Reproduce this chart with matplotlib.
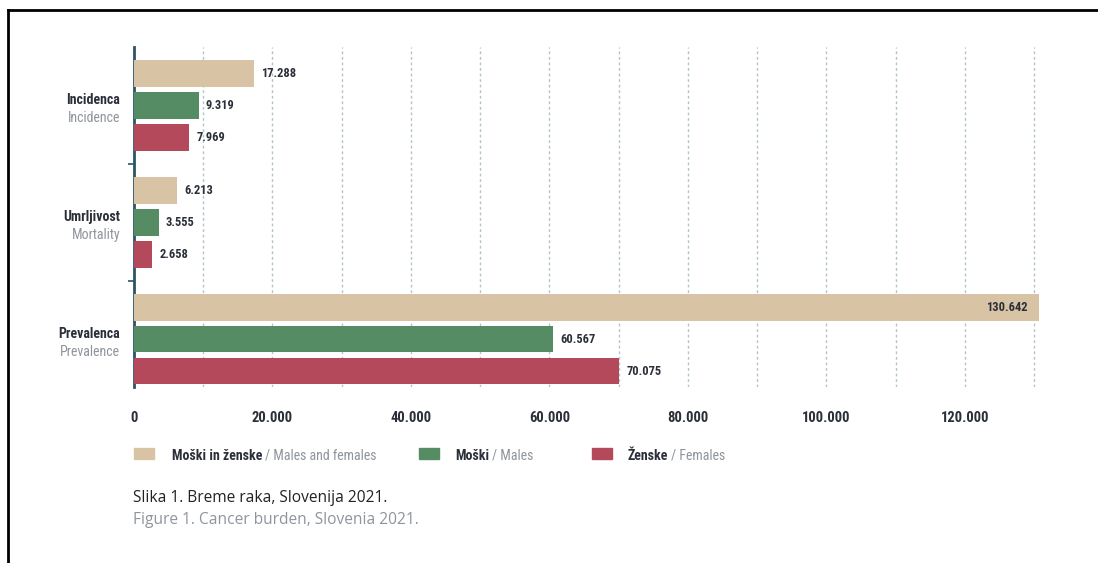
import numpy as np
import matplotlib
matplotlib.use('Agg')
import matplotlib.pyplot as plt
from matplotlib import font_manager
from matplotlib.patches import Rectangle
from matplotlib.lines import Line2D

# data
CATEGORIES_SL = ['Incidenca', 'Umrljivost', 'Prevalenca']
CATEGORIES_EN = ['Incidence', 'Mortality', 'Prevalence']
SERIES_SL     = ['Moški in ženske', 'Moški', 'Ženske']
SERIES_EN     = ['Males and females', 'Males', 'Females']
TOTAL   = [17288, 6213, 130642]
MALES   = [9319, 3555, 60567]
FEMALES = [7969, 2658, 70075]
XTICKS  = [0, 20000, 40000, 60000, 80000, 100000, 120000]

COLORS = ['#d8c3a4', '#568c63', '#b5495c']
DARK   = '#2b2f3a'
GREY   = '#8e959c'

available = {f.name for f in font_manager.fontManager.ttflist}
NARROW = next((f for f in ['Liberation Sans Narrow', 'Roboto Condensed',
                           'DejaVu Sans Condensed', 'Roboto'] if f in available),
              'DejaVu Sans')
CAPTION = 'Open Sans' if 'Open Sans' in available else 'DejaVu Sans'

def fmt(v):
    return f'{v:,}'.replace(',', '.')

W, H = 1098, 563
fig = plt.figure(figsize=(W / 100, H / 100), dpi=100)

# axes placed in pixel terms
x0, x1 = 134, 1044.6
y_top, y_bot = 47, 387
ax = fig.add_axes([x0 / W, 1 - y_bot / H, (x1 - x0) / W, (y_bot - y_top) / H])

step = 3.65
offsets = [-1, 0, 1]
series = [TOTAL, MALES, FEMALES]
centers = np.arange(len(CATEGORIES_SL)) * step

for j, vals in enumerate(series):
    ys = centers + offsets[j]
    bars = ax.barh(ys, vals, height=0.84, color=COLORS[j], edgecolor='none', zorder=3)
    for b, v in zip(bars, vals):
        yc = b.get_y() + b.get_height() / 2
        if v > 100000:
            ax.annotate(fmt(v), (v, yc), xytext=(-8, 0), textcoords='offset points',
                        ha='right', va='center', fontsize=9, fontweight='bold',
                        color=DARK, family=NARROW, zorder=4)
        else:
            ax.annotate(fmt(v), (v, yc), xytext=(5, 0), textcoords='offset points',
                        ha='left', va='center', fontsize=9, fontweight='bold',
                        color=DARK, family=NARROW, zorder=4)

ax.set_xlim(0, 131500)
ax.set_ylim(centers[-1] + 1.5, centers[0] - 1.84)

ax.set_xticks(XTICKS)
ax.set_xticklabels([fmt(t) for t in XTICKS], fontsize=10.5, fontweight='bold',
                   color=DARK, family=NARROW)
ax.set_xticks(np.arange(10000, 131000, 20000), minor=True)
ax.tick_params(axis='x', which='both', length=0, pad=17)
ax.grid(axis='x', which='both', linestyle=(0, (2, 2)), color='#b3c3cd',
        linewidth=1, zorder=0)

# category boundaries as left ticks
ax.set_yticks((centers[:-1] + centers[1:]) / 2)
ax.set_yticklabels([])
ax.tick_params(axis='y', length=4, width=1.2, color='#2e5566', direction='out')

for s in ['top', 'right', 'bottom']:
    ax.spines[s].set_visible(False)
ax.spines['left'].set_color('#2e5566')
ax.spines['left'].set_linewidth(2)

for c, sl, en in zip(centers, CATEGORIES_SL, CATEGORIES_EN):
    ax.annotate(sl, (0, c), xycoords=('axes fraction', 'data'), xytext=(-10, 4),
                textcoords='offset points', ha='right', va='center', fontsize=10,
                fontweight='bold', color=DARK, family=NARROW)
    ax.annotate(en, (0, c), xycoords=('axes fraction', 'data'), xytext=(-10, -9),
                textcoords='offset points', ha='right', va='center', fontsize=10,
                color=GREY, family=NARROW)

# legend drawn by hand
leg_y = 1 - 456 / H
patch_x = [134, 419, 592]
text_x = [172, 455, 628]
for px, tx, col, sl, en in zip(patch_x, text_x, COLORS, SERIES_SL, SERIES_EN):
    fig.patches.append(Rectangle((px / W, 1 - 459 / H), 20 / W, 11 / H,
                                 transform=fig.transFigure, color=col))
    t = fig.text(tx / W, leg_y, sl, fontsize=10, fontweight='bold', color=DARK,
                 family=NARROW, va='center', ha='left')
    fig.canvas.draw()
    bb = t.get_window_extent()
    fig.text((bb.x1 + 3) / W, leg_y, '/ ' + en, fontsize=10, color=GREY,
             family=NARROW, va='center', ha='left')

fig.text(133 / W, 1 - 498 / H, 'Slika 1. Breme raka, Slovenija 2021.',
         fontsize=11.2, color='#222222', family=CAPTION, va='center', ha='left')
fig.text(133 / W, 1 - 520 / H, 'Figure 1. Cancer burden, Slovenia 2021.',
         fontsize=11.2, color=GREY, family=CAPTION, va='center', ha='left')

# frame (top and left edges of the page)
fig.add_artist(Line2D([8 / W, 1], [1 - 10 / H, 1 - 10 / H], color='black',
                      linewidth=2, transform=fig.transFigure))
fig.add_artist(Line2D([8 / W, 8 / W], [0, 1 - 10 / H], color='black',
                      linewidth=2, transform=fig.transFigure))

fig.savefig('out.png', dpi=100)
